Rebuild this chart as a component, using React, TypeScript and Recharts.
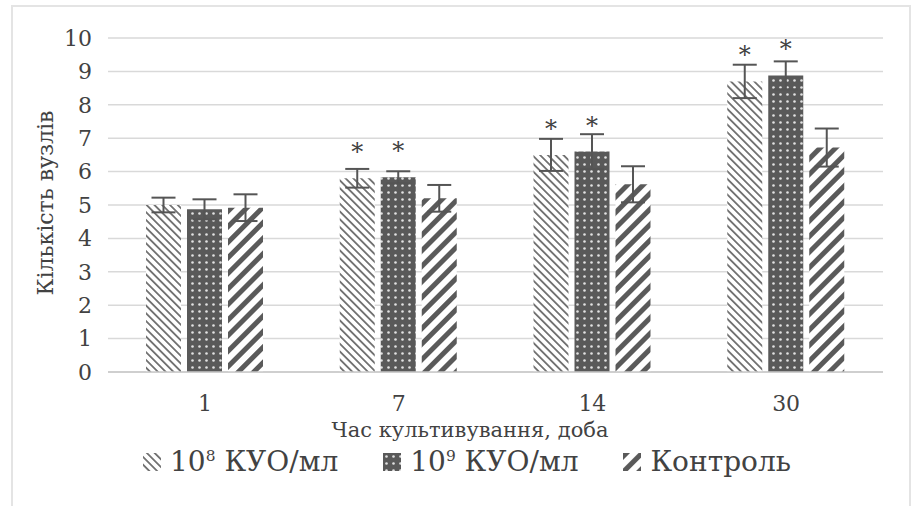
import React from 'react'
import { BarChart, Bar, XAxis, YAxis, CartesianGrid, ErrorBar, LabelList } from 'recharts'

const days = ['1', '7', '14', '30']
const kuo8 = [5.0, 5.8, 6.5, 8.7]
const kuo8Err = [0.22, 0.28, 0.48, 0.5]
const kuo9 = [4.87, 5.83, 6.6, 8.88]
const kuo9Err = [0.3, 0.18, 0.52, 0.42]
const control = [4.92, 5.2, 5.62, 6.72]
const controlErr = [0.4, 0.4, 0.54, 0.57]
// * = significant vs control
const kuo8Mark = ['', '*', '*', '*']
const kuo9Mark = ['', '*', '*', '*']
const yTicks = [0, 1, 2, 3, 4, 5, 6, 7, 8, 9, 10]

const data = days.map((d, i) => ({
  day: d,
  kuo8: kuo8[i],
  kuo8Err: kuo8Err[i],
  kuo8Mark: kuo8Mark[i],
  kuo9: kuo9[i],
  kuo9Err: kuo9Err[i],
  kuo9Mark: kuo9Mark[i],
  control: control[i],
  controlErr: controlErr[i],
}))

const font = 'DejaVu Serif'
const textColor = '#424242'

const Patterns = () => (
  <defs>
    <pattern id="hatch8" patternUnits="userSpaceOnUse" width="5.5" height="5.5" patternTransform="rotate(-45)">
      <rect x="0" y="0" width="5.5" height="5.5" fill="#fff" />
      <line x1="2.75" y1="0" x2="2.75" y2="5.5" stroke="#707070" strokeWidth="1.8" />
    </pattern>
    <pattern id="dots9" patternUnits="userSpaceOnUse" width="7" height="7">
      <rect x="0" y="0" width="7" height="7" fill="#595959" />
      <circle cx="3.5" cy="3.5" r="1.3" fill="#e2e2e2" />
    </pattern>
    <pattern id="hatchCtrl" patternUnits="userSpaceOnUse" width="11" height="11" patternTransform="rotate(45)">
      <rect x="0" y="0" width="11" height="11" fill="#fff" />
      <rect x="0" y="0" width="5" height="11" fill="#5a5a5a" />
    </pattern>
  </defs>
)

const renderMark = (props: any) => {
  const { x, y, width, value } = props
  if (!value) return null
  return (
    <text x={x + width / 2} y={y - 18} textAnchor="middle" fontSize={24} fontFamily={font} fill={textColor}>
      {value}
    </text>
  )
}

const legendItems = [
  { fill: 'url(#hatch8)', label: <>10<sup style={{ fontSize: '0.55em' }}>8</sup> КУО/мл</> },
  { fill: 'url(#dots9)', label: <>10<sup style={{ fontSize: '0.55em' }}>9</sup> КУО/мл</> },
  { fill: 'url(#hatchCtrl)', label: <>Контроль</> },
]

export default function App() {
  return (
    <div style={{ position: 'absolute', left: 0, top: 0, width: 914, height: 506, background: '#fff', overflow: 'hidden' }}>
      <div
        style={{
          position: 'absolute',
          left: 11,
          top: 5,
          width: 900,
          height: 510,
          border: '2px solid #e4e4e4',
          boxSizing: 'border-box',
        }}
      />
      <div style={{ position: 'absolute', left: 0, top: 0 }}>
        <BarChart
          width={914}
          height={506}
          data={data}
          margin={{ top: 38, right: 31, bottom: 104, left: 20 }}
          barSize={35}
          barGap={6}
        >
          <Patterns />
          <CartesianGrid vertical={false} stroke="#d9d9d9" strokeWidth={1.5} />
          <XAxis
            dataKey="day"
            height={30}
            tickLine={false}
            tickSize={0}
            tickMargin={23}
            axisLine={{ stroke: '#c9c9c9', strokeWidth: 1.5 }}
            tick={{ fontSize: 22, fontFamily: font, fill: textColor }}
          />
          <YAxis
            width={88}
            domain={[0, 10]}
            ticks={yTicks}
            interval={0}
            axisLine={false}
            tickLine={false}
            tickSize={0}
            tickMargin={16}
            tick={{ fontSize: 22, fontFamily: font, fill: textColor }}
          />
          <Bar dataKey="kuo8" fill="url(#hatch8)" isAnimationActive={false}>
            <ErrorBar dataKey="kuo8Err" width={12} strokeWidth={2} stroke="#555" direction="y" />
            <LabelList dataKey="kuo8Mark" content={renderMark} />
          </Bar>
          <Bar dataKey="kuo9" fill="url(#dots9)" isAnimationActive={false}>
            <ErrorBar dataKey="kuo9Err" width={12} strokeWidth={2} stroke="#555" direction="y" />
            <LabelList dataKey="kuo9Mark" content={renderMark} />
          </Bar>
          <Bar dataKey="control" fill="url(#hatchCtrl)" isAnimationActive={false}>
            <ErrorBar dataKey="controlErr" width={12} strokeWidth={2} stroke="#555" direction="y" />
          </Bar>
          <text x={45} y={203} transform="rotate(-90 45 203)" textAnchor="middle" dominantBaseline="central" fontSize={22} fontFamily={font} fill={textColor}>
            Кількість вузлів
          </text>
          <text x={470} y={437} textAnchor="middle" fontSize={21} fontFamily={font} fill={textColor}>
            Час культивування, доба
          </text>
        </BarChart>
      </div>
      <div
        style={{
          position: 'absolute',
          left: 10,
          top: 445,
          width: 914,
          display: 'flex',
          justifyContent: 'center',
          alignItems: 'center',
          gap: 45,
          fontFamily: font,
          fontSize: 28,
          color: textColor,
        }}
      >
        {legendItems.map((item, i) => (
          <div key={i} style={{ display: 'flex', alignItems: 'center', gap: 9 }}>
            <svg width={18} height={18}>
              <rect x={0} y={0} width={18} height={18} fill={item.fill} />
            </svg>
            <span style={{ whiteSpace: 'nowrap' }}>{item.label}</span>
          </div>
        ))}
      </div>
    </div>
  )
}
